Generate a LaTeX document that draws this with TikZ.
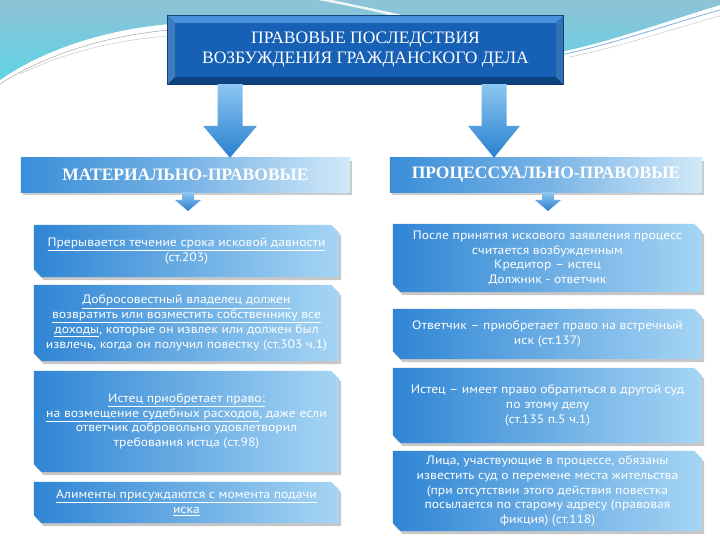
\documentclass[tikz,border=0pt]{standalone}
\usepackage{fontspec}
\setmainfont{Liberation Serif}
\newfontfamily\bodyfont[FakeStretch=1.12]{PT Sans}
\usetikzlibrary{calc}
\pgfdeclarelayer{bg}
\pgfsetlayers{bg,main}
\definecolor{bandtop}{HTML}{8FC2D6}
\definecolor{bandbot}{HTML}{5FD3E6}
\definecolor{tface}{HTML}{1660B6}
\definecolor{tlight}{HTML}{4A90DB}
\definecolor{tdark}{HTML}{0C427F}
\definecolor{tline}{HTML}{0A3A72}
\definecolor{bdark}{HTML}{2F85D4}
\definecolor{blight}{HTML}{A6D5F4}
\definecolor{hdark}{HTML}{3A8ED8}
\definecolor{hlight}{HTML}{D2E9F9}
\definecolor{atop}{HTML}{8CC6F0}
\definecolor{abot}{HTML}{2A80D0}
\tikzset{
  titlebox/.style={minimum width=395, minimum height=68, inner sep=0pt, align=center,
    text=white, font=\fontsize{17.5}{20}\selectfont},
  headbox/.style={minimum height=34, inner sep=0pt, text=white,
    font=\fontsize{17.5}{20}\selectfont\bfseries},
  infobox/.style={inner sep=0pt, align=center, text=white,
    font=\bodyfont\fontsize{12.2}{14.8}\selectfont},
  boxshade/.style={left color=bdark, right color=blight},
  arrowshade/.style={top color=atop, bottom color=abot},
}
% chamfered box behind a node
\newcommand\chbox[1]{%
  \begin{pgfonlayer}{bg}
  \fill[black,opacity=0.22] ([shift={(2,3)}]#1.north west) -- ([shift={(-6,3)}]#1.north east)
    -- ([shift={(2,11)}]#1.north east) -- ([shift={(2,3)}]#1.south east)
    -- ([shift={(10,3)}]#1.south west) -- ([shift={(2,-5)}]#1.south west) -- cycle;
  \shade[boxshade] (#1.north west) -- ([shift={(-8,0)}]#1.north east)
    -- ([shift={(0,8)}]#1.north east) -- (#1.south east)
    -- ([shift={(8,0)}]#1.south west) -- ([shift={(0,-8)}]#1.south west) -- cycle;
  \end{pgfonlayer}}
% block arrow from node #1 down to point #2 at x=#3
\newcommand\barrow[6]{% #1 from, #2 to, #3 x, #4 half shaft, #5 half head, #6 head length
  \shade[arrowshade] let \p1=(#3,0), \p2=(#1.south), \p3=(#2) in
    (\x1-#4pt,\y2) -- (\x1+#4pt,\y2) -- (\x1+#4pt,\y3+#6pt) -- (\x1+#5pt,\y3+#6pt)
    -- (\x1,\y3) -- (\x1-#5pt,\y3+#6pt) -- (\x1-#4pt,\y3+#6pt) -- cycle;}
\begin{document}
\begin{tikzpicture}[x=1pt,y=-1pt]
\useasboundingbox (0,0) rectangle (720,540);
\begin{pgfonlayer}{bg}
\fill[white] (0,0) rectangle (720,540);
% background band
\shade[top color=bandtop, bottom color=bandbot]
  (0,0) -- (720,0) -- (720,5) .. controls (670,20) and (610,42) .. (560,52)
  -- (560,30) -- (170,30) -- (170,24) .. controls (100,30) and (40,52) .. (0,80) -- cycle;
\fill[white,opacity=0.85] (318,0) -- (332,0) .. controls (360,6) and (385,11) .. (402,15)
  -- (396,17) .. controls (370,10) and (345,5) .. cycle;
\draw[gray!70,line width=0.5pt] (0,84) .. controls (40,58) and (100,36) .. (170,30);
\draw[gray!50,line width=0.4pt] (20,74) .. controls (60,55) and (110,40) .. (170,36);
\draw[cyan!60!blue!50,line width=0.8pt] (560,55) .. controls (610,45) and (670,24) .. (720,10);
\draw[gray!50,line width=0.4pt] (570,57) .. controls (620,47) and (675,28) .. (720,16);
\end{pgfonlayer}

% title
\node[titlebox] (title) at (365.5,50) {ПРАВОВЫЕ ПОСЛЕДСТВИЯ\\ВОЗБУЖДЕНИЯ ГРАЖДАНСКОГО ДЕЛА};
\begin{pgfonlayer}{bg}
\fill[tline] ([shift={(-1,-1)}]title.north west) rectangle ([shift={(1,1)}]title.south east);
\fill[tface] (title.north west) rectangle (title.south east);
\fill[tlight] (title.north west) -- (title.north east) -- ([shift={(-7,7)}]title.north east)
  -- ([shift={(7,7)}]title.north west) -- cycle;
\fill[tlight!85!black] (title.north west) -- ([shift={(7,7)}]title.north west)
  -- ([shift={(7,-7)}]title.south west) -- (title.south west) -- cycle;
\fill[tdark] (title.south west) -- (title.south east) -- ([shift={(-7,-7)}]title.south east)
  -- ([shift={(7,-7)}]title.south west) -- cycle;
\fill[tlight!60!tdark] (title.north east) -- ([shift={(-7,7)}]title.north east)
  -- ([shift={(-7,-7)}]title.south east) -- (title.south east) -- cycle;
\fill[tface] ([shift={(7,7)}]title.north west) rectangle ([shift={(-7,-7)}]title.south east);
\end{pgfonlayer}

% headers
\node[headbox, minimum width=329] (mat) at (185.5,175) {МАТЕРИАЛЬНО-ПРАВОВЫЕ};
\node[headbox, minimum width=312] (proc) at (546,175) {ПРОЦЕССУАЛЬНО-ПРАВОВЫЕ};
\begin{pgfonlayer}{bg}
\foreach \h in {mat,proc}{
  \fill[black,opacity=0.2] ([shift={(2,3)}]\h.north west) rectangle ([shift={(2,3)}]\h.south east);
  \shade[left color=hdark, right color=hlight, middle color=hdark!60!hlight]
    (\h.north west) rectangle (\h.south east);
}
\end{pgfonlayer}

% info boxes, left
\node[infobox, minimum width=305, minimum height=52] (l1) at (186.5,251)
  {\underline{Прерывается течение срока исковой давности}\\(ст.203)};
\node[infobox, minimum width=305, minimum height=76] (l2) at (186.5,323)
  {\underline{Добросовестный владелец должен}\\
   \underline{возвратить или возместить собственнику все}\\
   \underline{доходы}, которые он извлек или должен был\\
   извлечь, когда он получил повестку (ст.303 ч.1)};
\node[infobox, minimum width=305, minimum height=101] (l3) at (186.5,421.5)
  {\underline{Истец приобретает право:}\\
   \underline{на возмещение судебных расходов}, даже если\\
   ответчик добровольно удовлетворил\\
   требования истца (ст.98)};
\node[infobox, minimum width=305, minimum height=41] (l4) at (186.5,502.5)
  {\underline{Алименты присуждаются с момента подачи}\\\underline{иска}};
% info boxes, right
\node[infobox, minimum width=309, minimum height=68] (r1) at (547.5,258)
  {После принятия искового заявления процесс\\считается возбужденным\\
   Кредитор – истец\\Должник - ответчик};
\node[infobox, minimum width=309, minimum height=50] (r2) at (547.5,334)
  {Ответчик – приобретает право на встречный\\иск (ст.137)};
\node[infobox, minimum width=309, minimum height=75] (r3) at (547.5,405.5)
  {Истец – имеет право обратиться в другой суд\\по этому делу\\(ст.135 п.5 ч.1)};
\node[infobox, minimum width=309, minimum height=80] (r4) at (547.5,491)
  {Лица, участвующие в процессе, обязаны\\
   известить суд о перемене места жительства\\
   (при отсутствии этого действия повестка\\
   посылается по старому адресу (правовая\\
   фикция) (ст.118)};
\foreach \b in {l1,l2,l3,l4,r1,r2,r3,r4}{\chbox{\b}}

% arrows
\coordinate (mtip) at (188,211);
\coordinate (ptip) at (548,211);
\barrow{title}{mat.north}{230}{12.5}{27}{32}
\barrow{title}{proc.north}{494}{12.5}{26}{32}
\barrow{mat}{mtip}{188}{6}{13}{11}
\barrow{proc}{ptip}{548}{6}{13}{11}
\end{tikzpicture}
\end{document}
